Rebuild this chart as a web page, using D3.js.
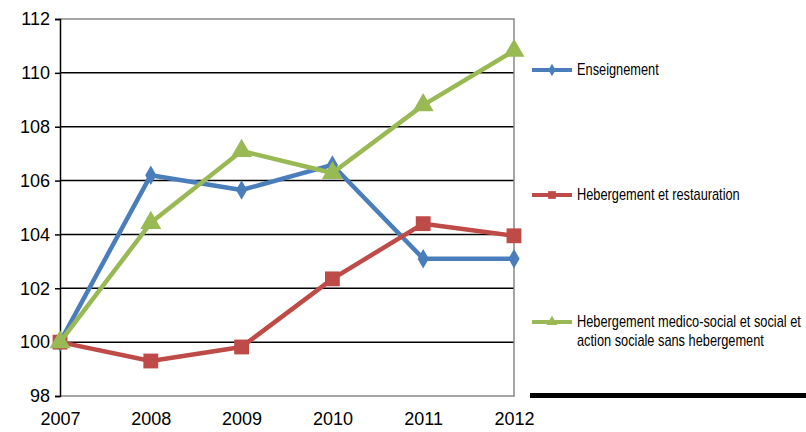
<!DOCTYPE html>
<html><head><meta charset="utf-8">
<script src="https://cdn.jsdelivr.net/npm/d3@7"></script>
<style>
body{margin:0;background:#fff;}
text{font-family:"Liberation Sans Narrow","Arial Narrow","Liberation Sans",Arial,sans-serif;fill:#000;}
</style></head>
<body><svg id="c" width="806" height="432"></svg>
<script>
const years = ["2007","2008","2009","2010","2011","2012"];
const enseignement = [100, 106.2, 105.65, 106.58, 103.1, 103.1];
const hebergementRestauration = [100, 99.3, 99.82, 102.35, 104.4, 103.95];
const hebergementMedicoSocial = [100, 104.43, 107.1, 106.28, 108.8, 110.82];
const yTicks = [98,100,102,104,106,108,110,112];
const seriesNames = ["Enseignement","Hebergement et restauration","Hebergement medico-social et social et|action sociale sans hebergement"];

const series = [
  {name: seriesNames[0], values: enseignement, color: "#4A7EBB", marker: "diamond"},
  {name: seriesNames[1], values: hebergementRestauration, color: "#BE4B48", marker: "square"},
  {name: seriesNames[2], values: hebergementMedicoSocial, color: "#98B954", marker: "triangle"}
];

const svg = d3.select("#c");
const L = 60, R = 514, T = 19, B = 396;
const x = d3.scalePoint().domain(years).range([L, R]);
const y = d3.scaleLinear().domain([98, 112]).range([B, T]);

// gridlines
svg.append("g").selectAll("line").data(yTicks.filter(v => v > 98 && v < 112)).join("line")
  .attr("x1", L).attr("x2", R).attr("y1", d => y(d)).attr("y2", d => y(d))
  .attr("stroke", "#000").attr("stroke-width", 1.5);
// border top/right/bottom gray
svg.append("path").attr("d", `M${L},${T}H${R}V${B}H${L}`).attr("fill","none")
  .attr("stroke","#888").attr("stroke-width",1.5);

// y axis
const yAxis = d3.axisLeft(y).tickValues(yTicks).tickSize(5).tickPadding(5).tickFormat(d3.format("d"));
const gy = svg.append("g").attr("transform", `translate(${L},0)`).call(yAxis);
gy.select(".domain").attr("stroke","#000").attr("stroke-width",1.5);
gy.selectAll(".tick line").attr("stroke","#000").attr("stroke-width",1.5);
gy.selectAll("text").style("font-size","18px").attr("fill","#000");

// x axis
const xAxis = d3.axisBottom(x).tickSize(0).tickPadding(16);
const gx = svg.append("g").attr("transform", `translate(0,${B})`).call(xAxis);
gx.select(".domain").remove();
gx.selectAll("text").style("font-size","18px").attr("fill","#000");

const line = d3.line().x((d,i) => x(years[i])).y(d => y(d));
const sym = {
  diamond: d3.symbol().type(d3.symbolDiamond).size(110),
  square: d3.symbol().type(d3.symbolSquare).size(220),
  triangle: d3.symbol().type(d3.symbolTriangle).size(190)
};

series.forEach(s => {
  const g = svg.append("g");
  g.append("path").datum(s.values).attr("d", line).attr("fill","none")
    .attr("stroke", s.color).attr("stroke-width", 4.5).attr("stroke-linejoin","round");
  g.selectAll("path.m").data(s.values).join("path").attr("class","m")
    .attr("transform", (d,i) => `translate(${x(years[i])},${y(d)})`)
    .attr("d", sym[s.marker]()).attr("fill", s.color);
});

// legend
const legY = [70, 195, 322];
series.forEach((s, i) => {
  const g = svg.append("g").attr("transform", `translate(532,${legY[i]})`);
  g.append("line").attr("x1",0).attr("x2",40).attr("stroke",s.color).attr("stroke-width",4);
  const m = {diamond: d3.symbol().type(d3.symbolDiamond).size(45),
             square: d3.symbol().type(d3.symbolSquare).size(60),
             triangle: d3.symbol().type(d3.symbolTriangle).size(50)}[s.marker];
  g.append("path").attr("transform","translate(20,0)").attr("d", m()).attr("fill", s.color);
  const lines = s.name.split("|");
  const t = g.append("text").attr("transform","translate(45,5) scale(0.8,1)").style("font-size","16px");
  lines.forEach((ln, j) => t.append("tspan").attr("x",0).attr("dy", j === 0 ? 0 : 19).text(ln));
});

// black bar at bottom right
svg.append("rect").attr("x",530).attr("y",393).attr("width",276).attr("height",5).attr("fill","#000");
</script></body></html>
